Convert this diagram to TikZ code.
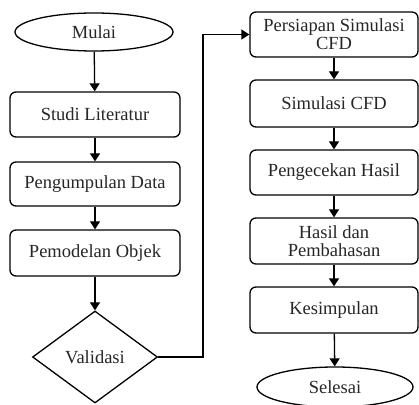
\documentclass[tikz,border=0pt]{standalone}
\usepackage{fontspec}
\setmainfont{Liberation Serif}
\usetikzlibrary{shapes.geometric,arrows.meta}
\begin{document}
\begin{tikzpicture}[x=1pt,y=1pt,
  every node/.style={font=\fontsize{18.5}{20}\selectfont, text=black!85, align=center},
  procbox/.style={draw, line width=1.3pt, rounded corners=6pt, inner sep=0pt},
  term/.style={draw, ellipse, line width=1.3pt, inner sep=0pt, minimum width=158pt, minimum height=38pt},
  decide/.style={draw, diamond, line width=1.3pt, inner sep=0pt, aspect=1.36, minimum width=125pt, minimum height=92pt},
  flow/.style={line width=1.3pt, -{Triangle[width=10pt,length=8pt]}}
]
\useasboundingbox (0,0) rectangle (419,404);
% left column (x center 95)
\node[term] (mulai) at (94,372) {Mulai};
\node[procbox, minimum width=170pt, minimum height=45pt] (studi) at (95,289.5) {Studi Literatur};
\node[procbox, minimum width=170pt, minimum height=44pt] (kumpul) at (95,220) {Pengumpulan Data};
\node[procbox, minimum width=170pt, minimum height=46pt] (model) at (95,151) {Pemodelan Objek};
\node[decide] (valid) at (95,47) {Validasi};
% right column (x center 334)
\node[procbox, minimum width=168pt, minimum height=45pt] (siap) at (334,369.5) {Persiapan Simulasi\\[-2pt]CFD};
\node[procbox, minimum width=168pt, minimum height=47pt] (simul) at (334,300.5) {Simulasi CFD};
\node[procbox, minimum width=168pt, minimum height=45pt] (cek) at (334,231.5) {Pengecekan Hasil};
\node[procbox, minimum width=168pt, minimum height=46pt] (hasil) at (334,163) {Hasil dan\\[-2pt]Pembahasan};
\node[procbox, minimum width=168pt, minimum height=46pt] (simpul) at (334,94) {Kesimpulan};
\node[term, minimum width=156pt, minimum height=40pt] (selesai) at (335,17) {Selesai};
% connectors
\draw[flow] (mulai) -- (studi);
\draw[flow] (studi) -- (kumpul);
\draw[flow] (kumpul) -- (model);
\draw[flow] (model) -- (valid);
\coordinate (turn) at (203,47);
\draw[flow] (valid.east) -- (turn) |- (siap.west);
\draw[flow] (siap) -- (simul);
\draw[flow] (simul) -- (cek);
\draw[flow] (cek) -- (hasil);
\draw[flow] (hasil) -- (simpul);
\draw[flow] (simpul) -- (selesai);
\end{tikzpicture}
\end{document}
